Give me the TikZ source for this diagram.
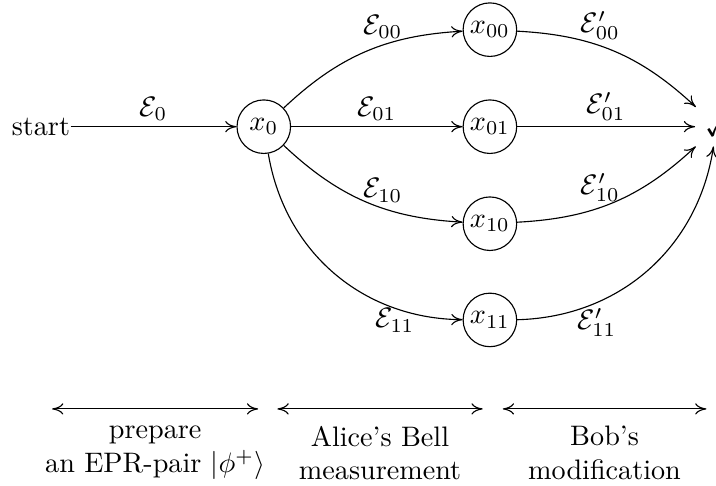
\documentclass[tikz,border=0pt]{standalone}
\usepackage{amsmath}
\usepackage{amssymb}
\usepackage{tikz}
\usetikzlibrary{arrows.meta}

\begin{document}
\begin{tikzpicture}[scale=1.0, >={To[length=4pt, width=4pt]},
        qstate/.style={circle, draw, minimum size=19pt, inner sep=1pt},
        lbl/.style={inner sep=2pt}]
            \useasboundingbox (-3.29,-4.48) rectangle (5.64,1.58);

            % States
            \node[inner sep=0pt] (start) at (-2.78, 0) {start};
            \node[qstate] (x0) at (0, 0) {$x_0$};
            \node[qstate] (x00) at (2.82, 1.21) {$x_{00}$};
            \node[qstate] (x01) at (2.82, 0) {$x_{01}$};
            \node[qstate] (x10) at (2.82, -1.21) {$x_{10}$};
            \node[qstate] (x11) at (2.82, -2.41) {$x_{11}$};
            \node (done) at (5.65, 0) {$\checkmark$};

            % Transitions
            \draw[->] (start) -- (x0) node[lbl, midway, above] {$\mathcal{E}_0$};
            \draw[->] (x0) to[bend left=20] node[lbl, pos=0.6, above] {$\mathcal{E}_{00}$} (x00);
            \draw[->] (x0) -- (x01) node[lbl, midway, above] {$\mathcal{E}_{01}$};
            \draw[->] (x0) to[bend right=20] node[lbl, pos=0.6, above] {$\mathcal{E}_{10}$} (x10);
            \draw[->] (x0) to[bend right=40] node[lbl, pos=0.76, below, yshift=2pt] {$\mathcal{E}_{11}$} (x11);
            \draw[->] (x00) to[bend left=20] node[lbl, pos=0.42, above] {$\mathcal{E}'_{00}$} (done);
            \draw[->] (x01) -- (done) node[lbl, midway, above] {$\mathcal{E}'_{01}$};
            \draw[->] (x10) to[bend right=20] node[lbl, pos=0.42, above] {$\mathcal{E}'_{10}$} (done);
            \draw[->] (x11) to[bend right=40] node[lbl, pos=0.28, below] {$\mathcal{E}'_{11}$} (done);

            % Phases
            \coordinate (p1) at (-2.64, -3.52);
            \coordinate (p2) at (-0.07, -3.52);
            \coordinate (a1) at (0.17, -3.52);
            \coordinate (a2) at (2.73, -3.52);
            \coordinate (b1) at (2.98, -3.52);
            \coordinate (b2) at (5.52, -3.52);

            \draw[<->] (p1) -- (p2) node[midway, below=2.5pt, align=center] (prep) {prepare\\an EPR-pair $|\phi^+\rangle$};
            \draw[<->] (a1) -- (a2) node[midway, below=2.5pt, align=center] (alice) {Alice's Bell\\measurement};
            \draw[<->] (b1) -- (b2) node[midway, below=2.5pt, align=center] (bob) {Bob's\\modification};
        \end{tikzpicture}
\end{document}
